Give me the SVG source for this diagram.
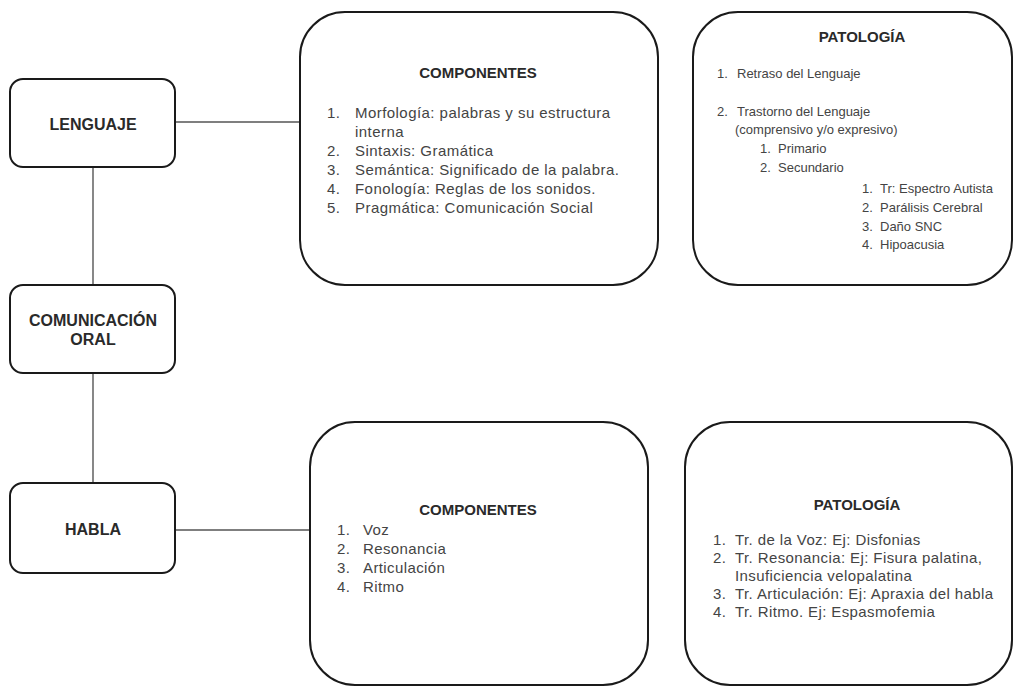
<svg xmlns="http://www.w3.org/2000/svg" width="1018" height="689" viewBox="0 0 1018 689">
<style>
.node{fill:#fff;stroke:#1a1a1a;stroke-width:2}
.conn{stroke:#555;stroke-width:1.4;fill:none}
.lbl{font-family:"Liberation Sans",Arial,sans-serif;font-weight:bold;font-size:16px;fill:#2a2a2a;text-anchor:middle}
.ttl{font-family:"Liberation Sans",Arial,sans-serif;font-weight:bold;font-size:15px;fill:#2a2a2a;text-anchor:middle}
.t{font-family:"Liberation Sans",Arial,sans-serif;fill:#444}
.a{font-size:15px;letter-spacing:0.45px}
.b{font-size:13px}
.c{font-size:15px;letter-spacing:0.4px}
.d{font-size:15px;letter-spacing:0.4px}
</style>
<rect width="1018" height="689" fill="#fff"/>
<g id="connectors">
<line class="conn" x1="175" y1="122" x2="300" y2="122"/>
<line class="conn" x1="93" y1="167" x2="93" y2="285"/>
<line class="conn" x1="93" y1="373" x2="93" y2="483"/>
<line class="conn" x1="175" y1="530" x2="310" y2="530"/>
</g>
<g id="lenguaje">
<rect class="node" x="10" y="79" width="165" height="88" rx="13"/>
<text class="lbl" x="93" y="130">LENGUAJE</text>
</g>
<g id="comunicacion-oral">
<rect class="node" x="10" y="285" width="165" height="88" rx="13"/>
<text class="lbl" x="93" y="326">COMUNICACIÓN</text>
<text class="lbl" x="93" y="345">ORAL</text>
</g>
<g id="habla">
<rect class="node" x="10" y="483" width="165" height="90" rx="13"/>
<text class="lbl" x="93" y="535">HABLA</text>
</g>
<g id="componentes-lenguaje">
<rect class="node" x="300" y="12" width="358" height="273" rx="45"/>
<text class="ttl" x="478" y="78">COMPONENTES</text>
<g class="t a">
<text x="327" y="118">1.</text><text x="355" y="118">Morfología: palabras y su estructura</text>
<text x="355" y="137">interna</text>
<text x="327" y="156">2.</text><text x="355" y="156">Sintaxis: Gramática</text>
<text x="327" y="175">3.</text><text x="355" y="175">Semántica: Significado de la palabra.</text>
<text x="327" y="194">4.</text><text x="355" y="194">Fonología: Reglas de los sonidos.</text>
<text x="327" y="213">5.</text><text x="355" y="213">Pragmática: Comunicación Social</text>
</g>
</g>
<g id="patologia-lenguaje">
<rect class="node" x="693" y="12" width="319" height="273" rx="45"/>
<text class="ttl" x="862" y="42">PATOLOGÍA</text>
<g class="t b">
<text x="717" y="78">1.</text><text x="737" y="78">Retraso del Lenguaje</text>
<text x="717" y="116">2.</text><text x="737" y="116">Trastorno del Lenguaje</text>
<text x="735" y="134">(comprensivo y/o expresivo)</text>
<text x="760" y="153">1.</text><text x="778" y="153">Primario</text>
<text x="760" y="172">2.</text><text x="778" y="172">Secundario</text>
<text x="862" y="193">1.</text><text x="880" y="193">Tr: Espectro Autista</text>
<text x="862" y="212">2.</text><text x="880" y="212">Parálisis Cerebral</text>
<text x="862" y="231">3.</text><text x="880" y="231">Daño SNC</text>
<text x="862" y="249">4.</text><text x="880" y="249">Hipoacusia</text>
</g>
</g>
<g id="componentes-habla">
<rect class="node" x="310" y="422" width="338" height="263" rx="45"/>
<text class="ttl" x="478" y="515">COMPONENTES</text>
<g class="t c">
<text x="337" y="535">1.</text><text x="363" y="535">Voz</text>
<text x="337" y="554">2.</text><text x="363" y="554">Resonancia</text>
<text x="337" y="573">3.</text><text x="363" y="573">Articulación</text>
<text x="337" y="592">4.</text><text x="363" y="592">Ritmo</text>
</g>
</g>
<g id="patologia-habla">
<rect class="node" x="685" y="422" width="327" height="263" rx="45"/>
<text class="ttl" x="857" y="510">PATOLOGÍA</text>
<g class="t d">
<text x="713" y="545">1.</text><text x="735" y="545">Tr. de la Voz: Ej: Disfonias</text>
<text x="713" y="563">2.</text><text x="735" y="563">Tr. Resonancia: Ej: Fisura palatina,</text>
<text x="735" y="581">Insuficiencia velopalatina</text>
<text x="713" y="599">3.</text><text x="735" y="599">Tr. Articulación: Ej: Apraxia del habla</text>
<text x="713" y="617">4.</text><text x="735" y="617">Tr. Ritmo. Ej: Espasmofemia</text>
</g>
</g>
</svg>
